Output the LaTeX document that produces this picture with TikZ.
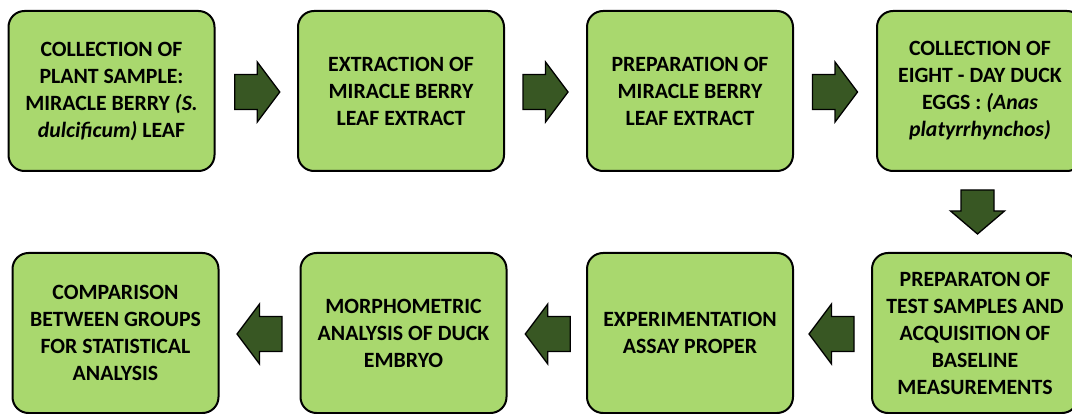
\documentclass[tikz,border=0pt]{standalone}
\usepackage{fontspec}
\setmainfont{Carlito}
\usetikzlibrary{calc}
\definecolor{boxgreen}{HTML}{A9D86E}
\definecolor{arrowgreen}{HTML}{385723}
\tikzset{
  stagebox/.style={draw=black, line width=2pt, fill=boxgreen, rounded corners=16pt,
    minimum width=206pt, minimum height=160pt, inner sep=0pt, align=center,
    font=\fontsize{21.8}{27}\selectfont\bfseries, text=black},
  arrowbody/.style={draw=black, line width=1.3pt, fill=arrowgreen, line join=miter},
  blockarrowh/.pic={\draw[arrowbody] (-22.5,-17.5) -- (0,-17.5) -- (0,-30) -- (22.5,0) -- (0,30) -- (0,17.5) -- (-22.5,17.5) -- cycle;},
  blockarrowv/.pic={\draw[arrowbody] (-16.5,-22) -- (16.5,-22) -- (16.5,-1) -- (27,-1) -- (0,22) -- (-27,-1) -- (-16.5,-1) -- cycle;}
}
\begin{document}
\begin{tikzpicture}[x=1pt,y=-1pt]
\useasboundingbox (0,0) rectangle (1072,414);
\clip (0,0) rectangle (1072,414);
% top row
\node[stagebox] (b1) at (111.5,91) {COLLECTION OF\\PLANT SAMPLE:\\MIRACLE BERRY \textit{(S.}\\\textit{dulcificum)} LEAF};
\node[stagebox] (b2) at (401,91) {EXTRACTION OF\\MIRACLE BERRY\\LEAF EXTRACT};
\node[stagebox] (b3) at (690,91) {PREPARATION OF\\MIRACLE BERRY\\LEAF EXTRACT};
\node[stagebox] (b4) at (980,91) {COLLECTION OF\\EIGHT - DAY DUCK\\EGGS : \textit{(Anas}\\\textit{platyrrhynchos)}};
% bottom row
\node[stagebox] (b5) at (975,333) {PREPARATON OF\\TEST SAMPLES AND\\ACQUISITION OF\\BASELINE\\MEASUREMENTS};
\node[stagebox] (b6) at (690,333) {EXPERIMENTATION\\ASSAY PROPER};
\node[stagebox] (b7) at (403.5,333) {MORPHOMETRIC\\ANALYSIS OF DUCK\\EMBRYO};
\node[stagebox] (b8) at (115.5,333) {COMPARISON\\BETWEEN GROUPS\\FOR STATISTICAL\\ANALYSIS};
% block arrows, each midway between the two boxes it links
\pic (a1) at ($(b1.east)!0.5!(b2.west)+(1,1)$) {blockarrowh};
\pic (a2) at ($(b2.east)!0.5!(b3.west)+(0,1)$) {blockarrowh};
\pic (a3) at ($(b3.east)!0.5!(b4.west)+(0,1)$) {blockarrowh};
\pic (a4) at ($(b4.south)!0.5!(b5.north)$) {blockarrowv};
\pic[rotate=180] (a5) at ($(b5.west)!0.5!(b6.east)+(-1,1)$) {blockarrowh};
\pic[rotate=180] (a6) at ($(b6.west)!0.5!(b7.east)+(1,1)$) {blockarrowh};
\pic[rotate=180] (a7) at ($(b7.west)!0.5!(b8.east)+(0,1)$) {blockarrowh};
\end{tikzpicture}
\end{document}
